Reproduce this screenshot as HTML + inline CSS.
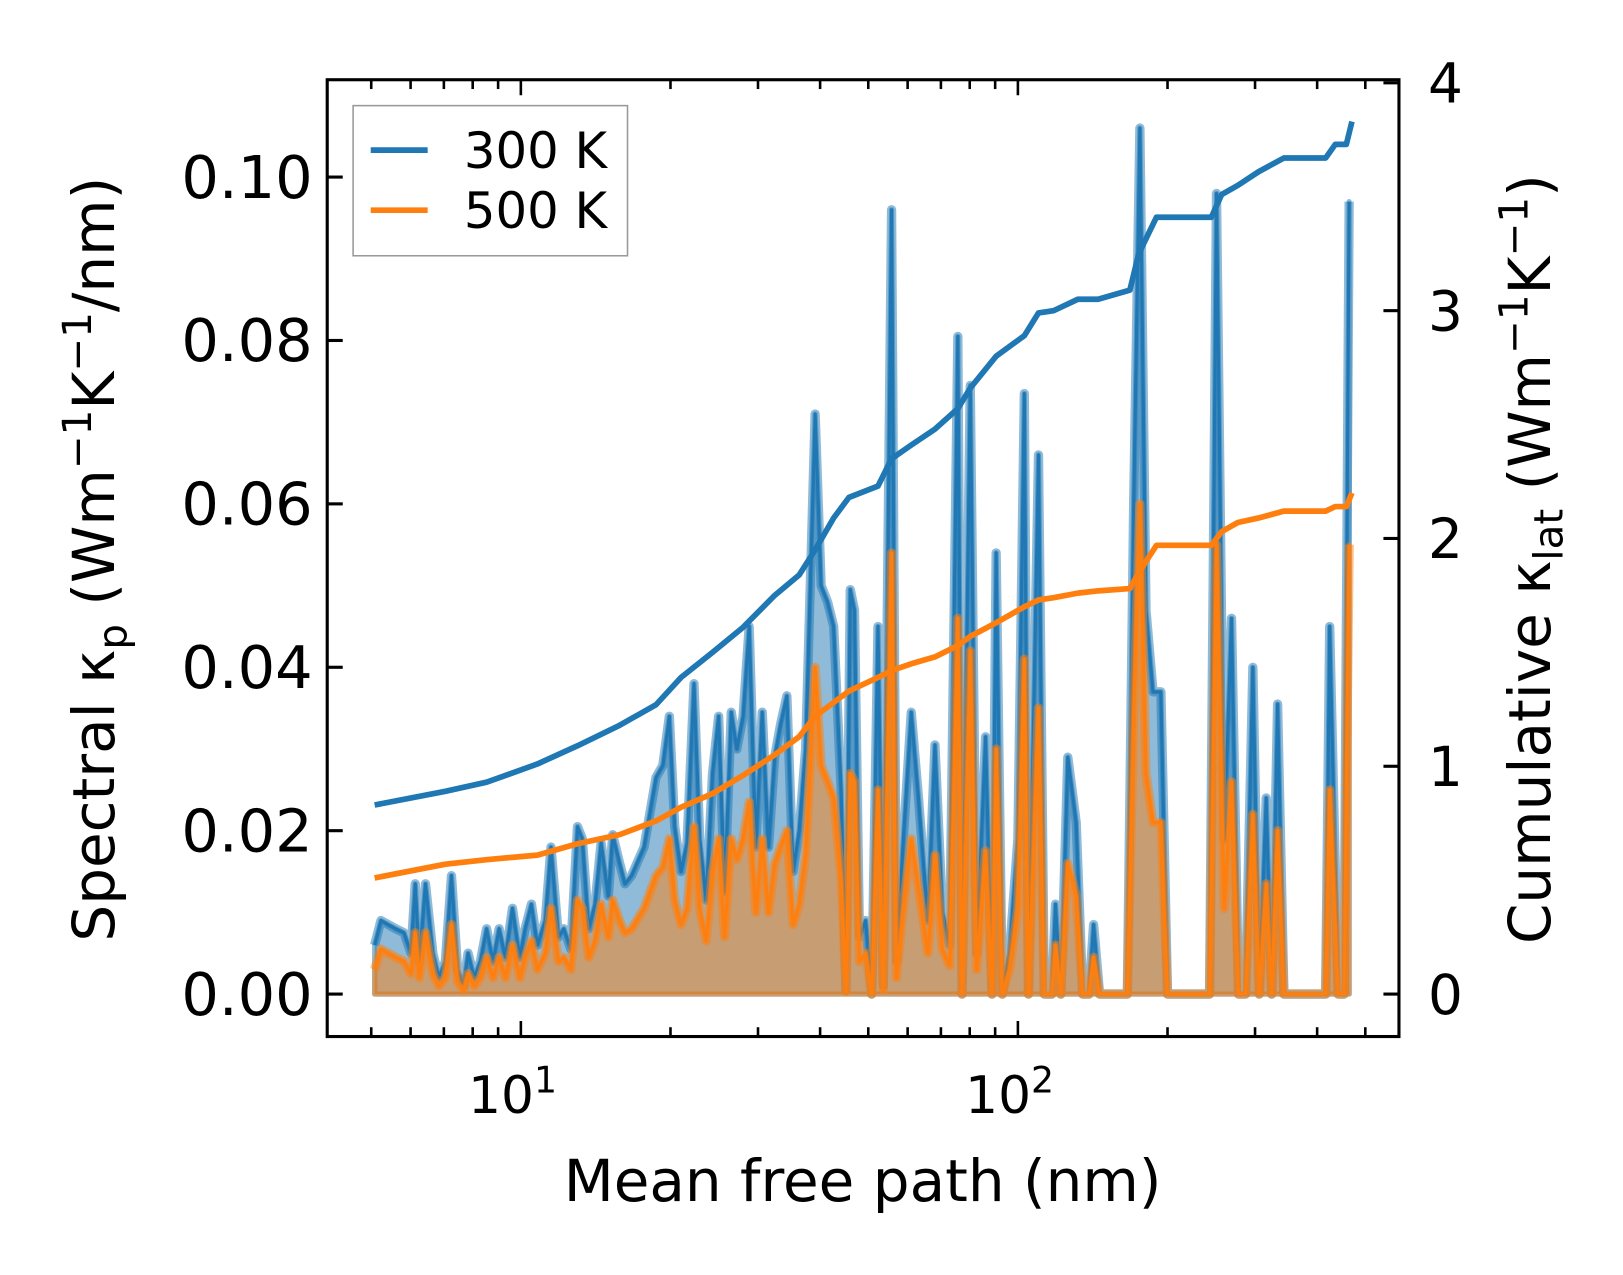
<!DOCTYPE html>
<html><head><meta charset="utf-8">
<style>
html,body{margin:0;padding:0;background:#fff;}
svg{display:block;font-family:"DejaVu Sans","Liberation Sans",sans-serif;}
</style></head>
<body>
<svg id="chart" width="1623" height="1275" viewBox="0 0 1623 1275" xmlns="http://www.w3.org/2000/svg">
<defs><clipPath id="clip"><rect x="316" y="77" width="1035" height="924"/></clipPath></defs>
<rect width="1623" height="1275" fill="#fff"/>
<g transform="scale(1.0355)">
<g id="plot" clip-path="url(#clip)"></g>
<g id="axes"></g>
</g>
</svg>
<script>
const specX = [5.08,5.23,5.41,5.60,5.82,6.01,6.13,6.25,6.43,6.65,6.84,7.05,7.25,7.46,7.67,7.83,8.06,8.29,8.53,8.79,9.04,9.31,9.62,9.95,10.2,10.5,10.8,11.2,11.5,11.9,12.2,12.6,13.0,13.3,13.7,14.1,14.5,15.0,15.3,15.8,16.2,16.7,17.7,18.7,19.3,19.9,20.4,21.0,21.6,22.3,22.9,23.6,24.3,25.0,25.7,26.5,27.2,28.0,28.8,29.7,30.6,31.5,32.4,33.3,34.3,35.3,36.3,37.4,39.1,40.2,41.4,42.6,44.1,45.1,46.0,46.9,48.0,49.4,50.8,52.3,53.6,55.7,57.0,58.7,61.0,63.1,65.9,68.1,70.5,72.9,75.7,77.2,80.2,82.6,86.1,88.7,90.4,93.0,96.2,100,103,105,110,113,117,119,122,126,131,135,139,142,146,156,166,171,176,181,187,194,200,243,251,260,269,278,287,297,306,316,324,333,343,416,424,441,453,464];
const spec300 = [0.006,0.009,0.0085,0.008,0.0075,0.005,0.0135,0.004,0.0135,0.005,0.002,0.004,0.0145,0.003,0.001,0.005,0.002,0.004,0.008,0.004,0.008,0.0045,0.0105,0.0045,0.008,0.011,0.006,0.009,0.018,0.007,0.008,0.0055,0.0205,0.019,0.008,0.011,0.0185,0.012,0.0195,0.016,0.0135,0.0145,0.018,0.0265,0.028,0.034,0.0205,0.015,0.0185,0.038,0.019,0.0115,0.027,0.034,0.0125,0.0345,0.03,0.034,0.045,0.018,0.0345,0.018,0.029,0.033,0.0365,0.015,0.02,0.03,0.071,0.05,0.048,0.045,0.025,0.0005,0.0495,0.047,0.007,0.009,0.0,0.045,0.001,0.096,0.004,0.018,0.0345,0.024,0.009,0.0305,0.01,0.006,0.0805,0.0,0.0745,0.005,0.0315,0.0,0.054,0.0,0.005,0.019,0.0735,0.0,0.066,0.0,0.0,0.011,0.0,0.029,0.021,0.0,0.0,0.0085,0.0,0.0,0.0,0.06,0.106,0.047,0.037,0.037,0.0,0.0,0.098,0.019,0.046,0.0,0.0,0.04,0.0,0.024,0.0,0.0355,0.0,0.0,0.045,0.0,0.0,0.097];
const spec500 = [0.003,0.0055,0.005,0.0045,0.004,0.0025,0.0075,0.002,0.0075,0.0025,0.001,0.002,0.0085,0.0015,0.0005,0.0025,0.001,0.002,0.0045,0.002,0.0045,0.002,0.006,0.002,0.0045,0.0065,0.003,0.005,0.0105,0.004,0.0045,0.003,0.0115,0.0105,0.0045,0.0065,0.011,0.007,0.0115,0.009,0.0075,0.008,0.0105,0.0145,0.0155,0.019,0.0115,0.0085,0.0105,0.0205,0.0105,0.0065,0.015,0.019,0.007,0.019,0.0165,0.019,0.0235,0.01,0.019,0.01,0.016,0.018,0.020,0.0085,0.011,0.017,0.040,0.028,0.026,0.024,0.014,0.0003,0.027,0.026,0.004,0.005,0.0,0.025,0.0005,0.054,0.002,0.010,0.019,0.013,0.005,0.017,0.0055,0.0035,0.046,0.0,0.042,0.003,0.0175,0.0,0.030,0.0,0.003,0.0105,0.041,0.0,0.035,0.0,0.0,0.006,0.0,0.016,0.012,0.0,0.0,0.0045,0.0,0.0,0.0,0.034,0.060,0.027,0.021,0.021,0.0,0.0,0.055,0.0105,0.026,0.0,0.0,0.022,0.0,0.0135,0.0,0.02,0.0,0.0,0.025,0.0,0.0,0.055];
const cumX = [5.08,7.05,8.53,10.8,13.0,15.8,18.7,21.0,24.3,28.0,32.4,36.3,39.1,42.6,45.7,52.3,55.7,61.0,68.1,75.7,80.2,90.4,103,110,118,132,145,168,175,190,245,257,277,305,343,416,435,458,470];
const cum300 = [0.83,0.89,0.93,1.01,1.09,1.18,1.27,1.39,1.5,1.61,1.75,1.84,1.95,2.09,2.18,2.23,2.35,2.41,2.48,2.57,2.66,2.8,2.89,2.99,3.0,3.05,3.05,3.09,3.25,3.41,3.41,3.51,3.55,3.61,3.67,3.67,3.73,3.73,3.83];
const cum500 = [0.51,0.57,0.59,0.61,0.66,0.70,0.76,0.82,0.88,0.96,1.05,1.13,1.22,1.28,1.33,1.39,1.42,1.45,1.48,1.53,1.57,1.63,1.70,1.73,1.74,1.76,1.77,1.78,1.85,1.97,1.97,2.03,2.07,2.09,2.12,2.12,2.14,2.14,2.20];
const leftTicks = [0,0.02,0.04,0.06,0.08,0.10];
const leftTickLabels = ["0.00","0.02","0.04","0.06","0.08","0.10"];
const rightTicks = [0,1,2,3,4];

const X0=316,X1=1351,Y0=77,Y1=1001;
const xs = v => 503 + 480*(Math.log10(v)-1);
const yl = v => 960 - v*7890;
const yr = v => 960 - v*220;
const NS="http://www.w3.org/2000/svg";
function mk(tag, attrs, parent){const e=document.createElementNS(NS,tag);for(const k in attrs)e.setAttribute(k,attrs[k]);parent.appendChild(e);return e;}
const plot=document.getElementById('plot'), axes=document.getElementById('axes');
const C1="#1f77b4", C2="#ff7f0e";

function spectral(vals, color, name){
  let pts = specX.map((x,i)=>xs(x).toFixed(1)+","+yl(vals[i]).toFixed(1));
  const area = mk('path',{d:"M"+xs(specX[0])+","+yl(0)+" L"+pts.join(" L")+" L"+xs(specX[specX.length-1])+","+yl(0)+" Z",fill:color,'fill-opacity':0.5,stroke:color,'stroke-opacity':0.5,'stroke-width':5,'stroke-linejoin':'round'},plot);
  
  
  const thick = mk('path',{d:"M"+pts.join(" L"),fill:'none',stroke:color,'stroke-opacity':0.5,'stroke-width':9,'stroke-linejoin':'round'},plot);
  
  
  const thin = mk('path',{d:"M"+pts.join(" L"),fill:'none',stroke:color,'stroke-width':3,'stroke-linejoin':'round'},plot);
  
  
}
spectral(spec300,C1,'spectral-300k');
spectral(spec500,C2,'spectral-500k');
function cum(vals,color,name){
  const pts=cumX.map((x,i)=>xs(x).toFixed(1)+","+yr(vals[i]).toFixed(1));
  const p=mk('path',{d:"M"+pts.join(" L"),fill:'none',stroke:color,'stroke-width':5.5,'stroke-linejoin':'round'},plot);
  
  
}
cum(cum300,C1,'cumulative-300k');
cum(cum500,C2,'cumulative-500k');

const fr=mk('rect',{x:X0,y:Y0,width:X1-X0,height:Y1-Y0,fill:'none',stroke:'#000','stroke-width':3},axes);


leftTicks.forEach((v,i)=>{
  const y=yl(v);
  mk('line',{x1:X0,x2:X0+15,y1:y,y2:y,stroke:'#000','stroke-width':3},axes);
  const t=mk('text',{x:X0-14,y:y+20,'font-size':57,'text-anchor':'end'},axes);
  t.textContent=leftTickLabels[i];
  
  
});
rightTicks.forEach(v=>{
  const y=yr(v);
  mk('line',{x1:X1-15,x2:X1,y1:y,y2:y,stroke:'#000','stroke-width':3},axes);
  const t=mk('text',{x:X1+28,y:y+19,'font-size':53},axes);
  t.textContent=String(v);
  
  
});
for(let d=0; d<3; d++){
  for(let m=1;m<10;m++){
    const v=m*Math.pow(10,d);
    const x=xs(v);
    if(x<X0||x>X1) continue;
    const len = m===1?15:9;
    mk('line',{x1:x,x2:x,y1:Y1,y2:Y1-len,stroke:'#000','stroke-width':2.5},axes);
    mk('line',{x1:x,x2:x,y1:Y0,y2:Y0+len,stroke:'#000','stroke-width':2.5},axes);
  }
}
[[10,"1"],[100,"2"]].forEach(([v,e])=>{
  const t=mk('text',{x:xs(v)-8,y:1075,'font-size':50,'text-anchor':'middle'},axes);
  
  
  t.textContent="10";
  const s=mk('tspan',{dy:-20,'font-size':35},t); s.textContent=e;
});
const xt=mk('text',{x:833,y:1160,'font-size':56,'text-anchor':'middle'},axes);
xt.textContent="Mean free path (nm)";


const ylt=mk('text',{transform:'translate(110,540) rotate(-90)','font-size':56,'text-anchor':'middle'},axes);


ylt.innerHTML='Spectral κ<tspan dy="12" font-size="39">p</tspan><tspan dy="-12"> (Wm</tspan><tspan dy="-22" font-size="39">−1</tspan><tspan dy="22">K</tspan><tspan dy="-22" font-size="39">−1</tspan><tspan dy="22">/nm)</tspan>';
const yrt=mk('text',{transform:'translate(1497,540) rotate(-90)','font-size':56,'text-anchor':'middle'},axes);


yrt.innerHTML='Cumulative κ<tspan dy="12" font-size="39">lat</tspan><tspan dy="-12"> (Wm</tspan><tspan dy="-22" font-size="39">−1</tspan><tspan dy="22">K</tspan><tspan dy="-22" font-size="39">−1</tspan><tspan dy="22">)</tspan>';
const lg=mk('g',{},axes);


mk('rect',{x:341,y:102,width:265,height:145,fill:'#fff','fill-opacity':0.8,stroke:'#999','stroke-width':1.5},lg);
[[C1,"300 K",145],[C2,"500 K",203]].forEach(([c,l,y])=>{
  const ln=mk('line',{x1:358,x2:413,y1:y,y2:y,stroke:c,'stroke-width':5.5},lg);
  
  
  const t=mk('text',{x:448,y:y+17,'font-size':48},lg);
  t.textContent=l;
  
  
});
</script>
</body></html>
